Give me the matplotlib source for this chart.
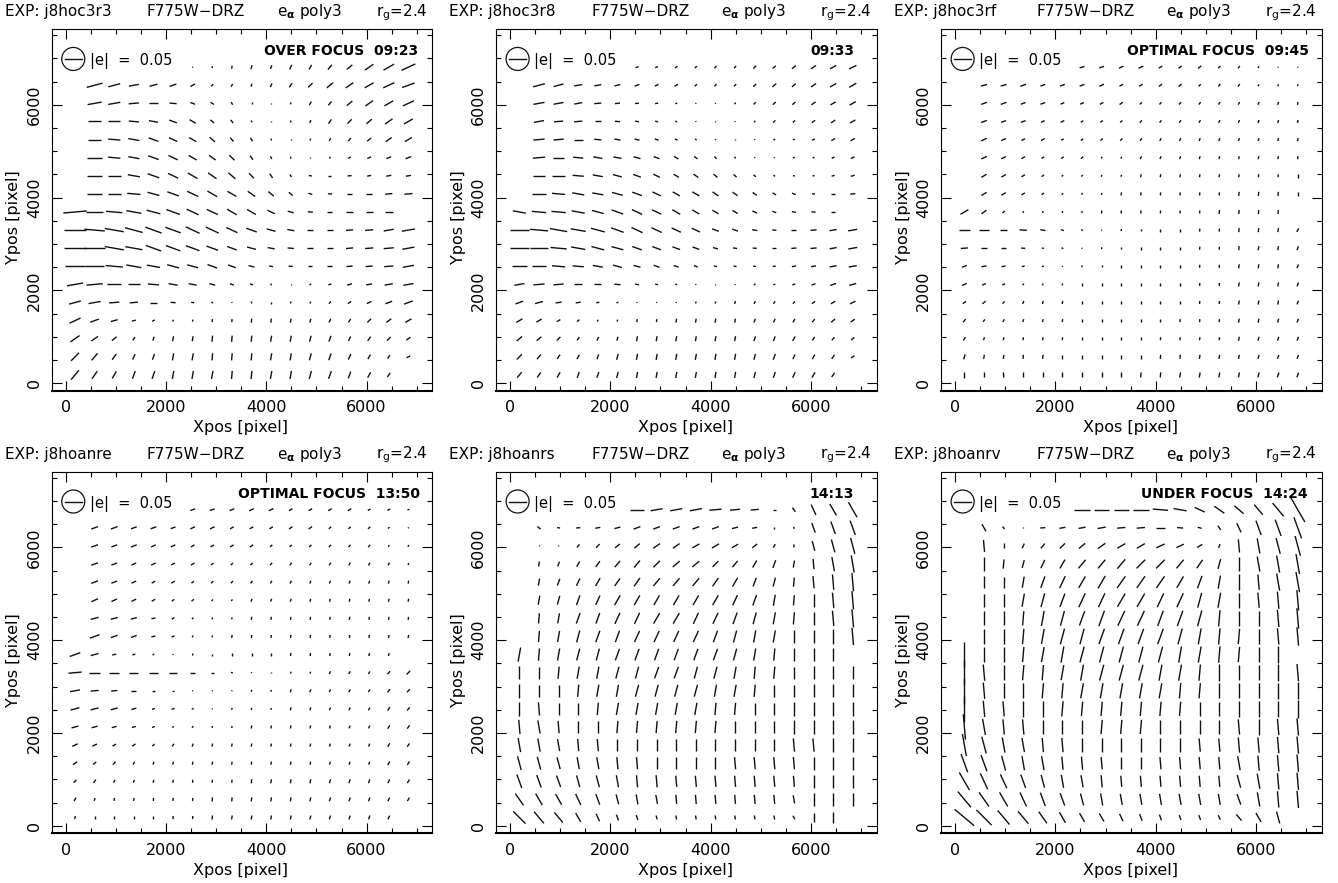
import matplotlib
matplotlib.use("Agg")
import matplotlib.pyplot as plt
from matplotlib.collections import LineCollection
from matplotlib.patches import Ellipse
from matplotlib.ticker import MultipleLocator
import numpy as np

plt.rcParams['font.family'] = ['DejaVu Sans']

# centres of the ellipticity grid cells (drizzled pixels)
X_CELLS = [186, 577, 968, 1359, 1750, 2141, 2532, 2923, 3314, 3705,
           4096, 4487, 4878, 5269, 5660, 6051, 6442, 6833]
# top row first, same order as the code strings below
Y_CELLS = [6810, 6420, 6030, 5640, 5250, 4860, 4470, 4080, 3690,
           3300, 2910, 2520, 2130, 1740, 1350, 960, 570, 180]

EXPOSURES = ["j8hoc3r3", "j8hoc3r8", "j8hoc3rf", "j8hoanre", "j8hoanrs", "j8hoanrv"]
NOTES = ["OVER FOCUS  09:23", "09:33", "OPTIMAL FOCUS  09:45",
         "OPTIMAL FOCUS  13:50", "14:13", "UNDER FOCUS  14:24"]

# one char per cell: angle = index*5 deg, |e| = index*0.003, '.' = no cell
SYMBOLS = "0123456789abcdefghijklmnopqrstuvwxyz"
ANGLE_STEP = 5.0
E_STEP = 0.003
E_REF = 0.05

ANG_1 = ["......cfgfedca8765", ".3323469cfdb987654", ".2210zwtoiieca8765",
         ".00zywusqmigeb9876", ".0zywvusqolieca876", ".0zywvutrpnkic6544",
         ".00ywvutsrpoy01222", ".00zxwvuutsswz0011", "10zyxwvvuuvxz0000.",
         "0zyxwwvvvwxy001122", "00yywwwwwxyz001112", "00zyyxxwwxyz001112",
         "2100zyyxwuoi943222", "32110zyuokigea7544", "54336cghhhhgfdb976",
         "778begghhhggfedb97", "9abdegghhhggfedcb6", "abceeggghhggfeecb."]
LEN_1 = ["......123445567acf", ".gca87533345689acd", ".eca875432124579ac",
         ".dca9875421235679a", ".dcba9875421234578", ".ecbba987532123456",
         ".edccbba9753334455", ".eddcccba975445678", "nhgfeedcba8655678.",
         "mkjihgfecb976678ad", "mkjhgfeca9766678ac", "kjhfdcba864445679b",
         "ggecb986432123568a", "cca875321222234579", "c97432233444444567",
         "b86445566666665555", "b97667777777776544", "c9888888888888765."]

ANG_2 = ["......4579aa988765", ".33223456899988766", ".222111248ca988766",
         ".2110zyxuoica98776", ".110zyxwusoia87666", ".10zyyxwutsroc6555",
         ".00zyxwvutsssuy233", ".0zyyxwvuutttuwy01", "yzzyxwvvuuuuvwyz0.",
         "0zyyxwvvvvwwyz0122", "00zyxxwwwwxyz01122", "00zzyxxwwwwxz12222",
         "21100zyxuoic865443", "4322236cgggfdb9765", "6668cfggggggedca87",
         "889bdfggggggeecba8", "9abcefggggggfedcb7", "abceefggggggfedcb."]
LEN_2 = ["......333333445678", ".ca876544333455678", ".ba875432112344567",
         ".a9865432111233456", ".ba976543211122345", ".cba98765432112234",
         ".ccba9876654322234", ".ddcbba98876544345", "deedccba987654444.",
         "jihfedcba976545679", "ihgedca98754445679", "eedba9765433334578",
         "aba876432111223467", "886532111223333456", "764322334444444455",
         "765444555555555444", "765556666666665554", "76666666666666665."]

ANG_3 = ["......34556789bceg", ".334444566789abceg", ".44445567899abcdeg",
         ".444556789abccdefg", ".55566789bcdeeefgg", ".556678acdeeffgggh",
         ".66678adfgggggghhi", ".6667aegghhhhhhhhi", "678cfhhhhhhhhhhhh.",
         "000zywsmjiiihhhhgc", "100zyuojiiiihhhgge", "42224chiiiiihhggge",
         "5569ehiiiiiihhggge", "78adfgiiiiiihhggge", "abdeggiiiiihhgggfe",
         "cefgghiiiihhgggfee", "fgghhiiiiihhgggfee", "iijiiiiiihhggggfee"]
LEN_3 = ["......555544433211", ".66655554444333222", ".66554444333333333",
         ".65544333333333333", ".65443333333333333", ".65433322333333333",
         ".65432222333333334", ".65432223333334444", "96322223333334444.",
         "b97753212233334444", "765422122333334444", "554321223333334444",
         "543222333333334444", "443333333333334444", "433333333333334444",
         "433333333333334444", "544444444444444444", "655555555555555555"]

ANG_4 = ["......444556666654", ".44444556667788888", ".4445566678899aabc",
         ".445566789abbccdde", ".4456678abcdeeeefg", ".555678aceeefggggg",
         ".333279ceggggggggh", ".44425cfghhhhhhhgg", "43336chiiiihhhggf.",
         "10000000yoifedcba9", "21100016cfgfedcba9", "3333344aegggfedcba",
         "333346aegggggfedcb", "55679beggggggfeecb", "78acefgghhgggfeecc",
         "9bdegghhhhgggfeedc", "cegghhhhhgggfeeedc", "giiiihhhggggfeeed."]
LEN_4 = ["......555554444332", ".77665554444433321", ".76655444433333322",
         ".76554433333333332", ".76544333333333333", ".76543322333333333",
         ".87643222333333333", ".a7643223333333333", "b8432122333333333.",
         "dba987532112233345", "a86532111223333344", "987533212223333344",
         "765432222333333344", "654433333333333344", "544333333333333344",
         "443333333444444444", "433333344444444444", "33333334444444444."]

ANG_5 = ["......02221110pnoo", ".sy1234444432immmm", ".ica988776668chlll",
         ".gecbaa9889acegjkk", ".gedcbbaaabcefhjjj", ".gfedccccccdeghijj",
         ".hgeeddccddefghijj", ".hgfeeddddefggiiij", "ghgffeeeeeefghiii.",
         "iihggffeeffghhiiii", "iiihggffffgghiiiii", "ijiihggggghhiiiiii",
         "jkjiihhhhhhiiiiiii", "kkkjjiiiiiiiiijjii", "lllkkjjiiiijjjjiii",
         "mmmllkjjjjjjjjjiii", "poonmlkkjjjjjjkiii", "rqqonmmlkkkkkkoii."]
LEN_5 = ["......dcccca835bdh", ".43456777776522adf", ".11456788887643adg",
         ".55678999988887aeh", ".77899aaaaaa999cfi", ".99aabbbbbbbbbadfi",
         ".aabb" "ccccc" "ccccc" "dfi",
         ".bb" "ccccc" "ccccc" "cc" "dfh",
         "e" "ccccc" "ccccc" "cccc" "dd.",
         "d" "ccccc" "ccccc" "cccc" "ddd",
         "e" "ccccc" "ccccc" "cccc" "ddd",
         "ed" "cccccc" "cccccc" "dddd",
         "ed" "cccccc" "cccccc" "dddd",
         "ed" "cccccc" "cccccc" "dddd",
         "ed" "cccccc" "ccccccc" "ddd",
         "edcccccc" "bbbbbbb" "ddd",
         "edccbaa99999998cdd",
         "hfda865" "44444444" "8a."]

ANG_6 = ["......0000zyvtsqqo", ".oqi1222110zxpnmmm", ".jida98766556ejkll",
         ".ihfdcaaa99abfikkk", ".iigedccbbbcegijkk", ".iigfeddccddfgijjj",
         ".iihgfeeddeefhiijj", ".iihgffeeeefghhijj", "iiihggfffffgghhii.",
         "ijihhggfffgghiiiij", "ijiihhggggghhiiiii", "ijjiihhhhhhhiiiiii",
         "jkjjiiihhhiiiijijj", "klkkjjiiiiiijjjjjj", "mmlkkjjjiijjjjkjjj",
         "onnmlkkjjjjjjjlkjj", "qponmmlkkkkkkkmkjj", "srqqpooonmmmmnqol."]
LEN_6 = ["......fffffdbccdhs", ".8315678888645afhm", ".c556789999864dfgk",
         ".d989abbcccbaaefhk", ".cbbcddeeeedddffhk",
         ".dddee" "fffff" "fffff" "hk",
         ".eeefff" "ggggggg" "ffhk",
         ".ffff" "ggggggggg" "ffgi",
         "pffff" "ggggggggg" "ffg.",
         "pgffff" "gggggggg" "ffgh",
         "pg" "fffffff" "fffffff" "gh",
         "pgffff" "eeeeeeee" "ffgh",
         "pgff" "eeeeeeeeee" "ffgh",
         "mhfeee" "dddddddd" "ffgh",
         "jhfeedd" "ccccccc" "efgh",
         "khfeddcc" "bbbbbb" "dfgh",
         "khgfedcc" "bbbbbbb" "egh",
         "pligeca98765558ac."]

ANGLES = [ANG_1, ANG_2, ANG_3, ANG_4, ANG_5, ANG_6]
LENGTHS = [LEN_1, LEN_2, LEN_3, LEN_4, LEN_5, LEN_6]

# layout
REF_PX = 17.0          # screen length of the |e| = 0.05 stick
XLIM = (-280, 7310)
YLIM = (-160, 7625)
LEFTS = [0.0386, 0.3707, 0.7033]
BOTTOMS = [0.5575, 0.0563]
AX_W, AX_H = 0.2845, 0.4093
NOTE_X = [0.963, 0.941, 0.966, 0.968, 0.941, 0.962]


def draw_whiskers(ax, ang_rows, len_rows):
    bb = ax.get_window_extent()
    ux = (XLIM[1] - XLIM[0]) / bb.width
    uy = (YLIM[1] - YLIM[0]) / bb.height
    segs = []
    for y, arow, lrow in zip(Y_CELLS, ang_rows, len_rows):
        if len(arow) != len(X_CELLS) or len(lrow) != len(X_CELLS):
            print("row length mismatch:", arow, lrow)
        for x, a, l in zip(X_CELLS, arow, lrow):
            if a == '.' or l == '.':
                continue
            theta = np.deg2rad(SYMBOLS.index(a) * ANGLE_STEP)
            e = SYMBOLS.index(l) * E_STEP
            half = 0.5 * e / E_REF * REF_PX
            dx = half * np.cos(theta) * ux
            dy = half * np.sin(theta) * uy
            segs.append([(x - dx, y - dy), (x + dx, y + dy)])
    ax.add_collection(LineCollection(segs, colors='#111111', linewidths=1.0,
                                     capstyle='butt'))


fig = plt.figure(figsize=(13.38, 8.83), dpi=100)

for k in range(6):
    ax = fig.add_axes([LEFTS[k % 3], BOTTOMS[k // 3], AX_W, AX_H])
    ax.set_xlim(*XLIM)
    ax.set_ylim(*YLIM)

    draw_whiskers(ax, ANGLES[k], LENGTHS[k])

    ax.xaxis.set_major_locator(MultipleLocator(2000))
    ax.xaxis.set_minor_locator(MultipleLocator(500))
    ax.yaxis.set_major_locator(MultipleLocator(2000))
    ax.yaxis.set_minor_locator(MultipleLocator(500))
    ax.tick_params(which='both', direction='in', top=True, right=True,
                   width=0.8, labelsize=11.5, pad=7)
    ax.tick_params(which='major', length=7)
    ax.tick_params(which='minor', length=3.5)
    ax.tick_params(axis='y', labelrotation=90)
    for lbl in ax.get_yticklabels():
        lbl.set_va('center')
    for side in ['top', 'left', 'right']:
        ax.spines[side].set_linewidth(0.8)
    ax.spines['bottom'].set_linewidth(1.5)

    ax.text(0.497, -0.1145, 'Xpos [pixel]', transform=ax.transAxes,
            ha='center', va='baseline', fontsize=11.5)
    ax.text(-0.099, 0.48, 'Ypos [pixel]', transform=ax.transAxes,
            rotation=90, ha='center', va='center', fontsize=11.5)

    # header line
    hy = 1.037
    ax.text(-0.123, hy, 'EXP: ' + EXPOSURES[k], transform=ax.transAxes,
            ha='left', va='baseline', fontsize=11)
    ax.text(0.25, hy, 'F775W\u2212DRZ', transform=ax.transAxes,
            ha='left', va='baseline', fontsize=11)
    ax.text(0.591, hy, r'e$_{\mathbf{\alpha}}$ poly3', transform=ax.transAxes,
            ha='left', va='baseline', fontsize=11)
    ax.text(0.988, hy, r'r$_\mathregular{g}$=2.4', transform=ax.transAxes,
            ha='right', va='baseline', fontsize=11)

    # focus note
    ax.text(NOTE_X[k], 0.929, NOTES[k], transform=ax.transAxes,
            ha='right', va='baseline', fontsize=10, fontweight='bold')

    # scale legend: circle with the |e| = 0.05 stick
    bb = ax.get_window_extent()
    cx, cy = 0.0568, 0.918
    ax.add_patch(Ellipse((cx, cy), 23.0 / bb.width, 23.0 / bb.height,
                         transform=ax.transAxes, fill=False, lw=0.9,
                         color='#111111'))
    hw = 0.5 * REF_PX / bb.width
    ax.plot([cx - hw, cx + hw], [cy, cy], transform=ax.transAxes,
            color='#111111', lw=1.0)
    ax.text(0.10, 0.901, '|e|  =  0.05', transform=ax.transAxes,
            ha='left', va='baseline', fontsize=10.5)

fig.savefig('out.png', dpi=100)
